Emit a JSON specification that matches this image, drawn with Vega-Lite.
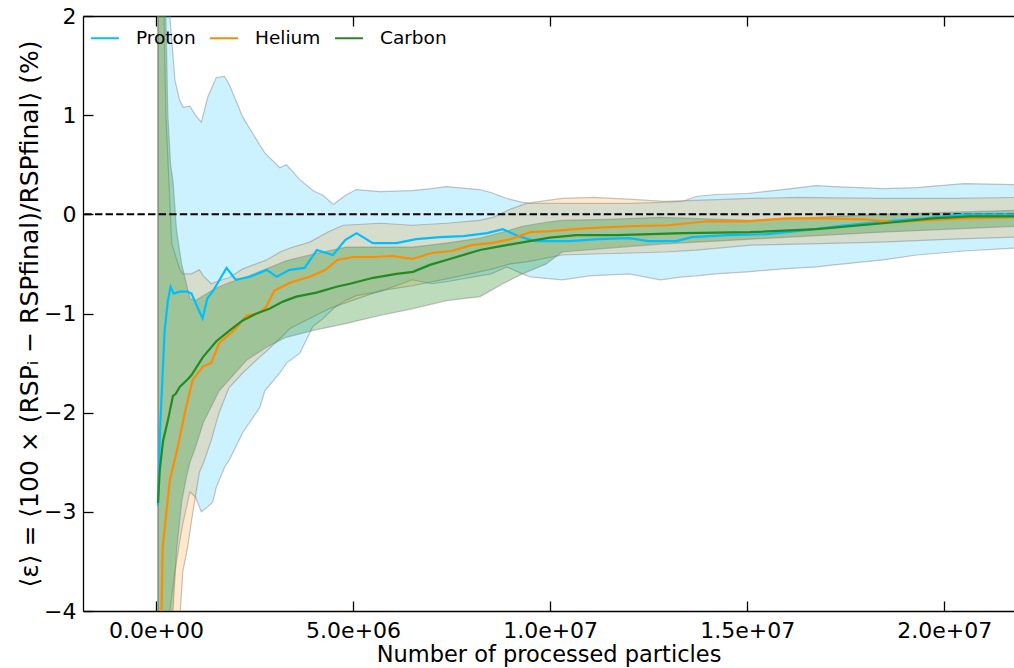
{
  "$schema": "https://vega.github.io/schema/vega-lite/v6.json",
  "autosize": {"type": "none"},
  "padding": {"left": 83, "top": 16, "right": 0, "bottom": 57},
  "width": 931,
  "height": 595,
  "background": "white",
  "config": {
    "view": {"stroke": null},
    "font": "DejaVu Sans",
    "axis": {
      "domainColor": "#000000", "domainWidth": 1.3,
      "tickColor": "#000000", "tickWidth": 1.3, "tickSize": -10,
      "labelFont": "DejaVu Sans", "labelFontSize": 22, "labelColor": "#000000",
      "titleFont": "DejaVu Sans", "titleFontWeight": "normal", "titleColor": "#000000",
      "grid": false
    }
  },
  "datasets": {
    "lines": [
      {"s":"Proton","x":50000,"y":-2.94},{"s":"Proton","x":100000,"y":-2.2},{"s":"Proton","x":160000,"y":-1.67},{"s":"Proton","x":220000,"y":-1.17},{"s":"Proton","x":300000,"y":-0.87},{"s":"Proton","x":370000,"y":-0.73},{"s":"Proton","x":450000,"y":-0.8},{"s":"Proton","x":600000,"y":-0.78},{"s":"Proton","x":800000,"y":-0.78},{"s":"Proton","x":900000,"y":-0.8},{"s":"Proton","x":1100000,"y":-0.98},{"s":"Proton","x":1180000,"y":-1.05},{"s":"Proton","x":1300000,"y":-0.85},{"s":"Proton","x":1450000,"y":-0.77},{"s":"Proton","x":1790000,"y":-0.54},{"s":"Proton","x":2020000,"y":-0.66},{"s":"Proton","x":2380000,"y":-0.63},{"s":"Proton","x":2810000,"y":-0.56},{"s":"Proton","x":3060000,"y":-0.63},{"s":"Proton","x":3390000,"y":-0.56},{"s":"Proton","x":3770000,"y":-0.54},{"s":"Proton","x":4080000,"y":-0.36},{"s":"Proton","x":4490000,"y":-0.41},{"s":"Proton","x":4800000,"y":-0.26},{"s":"Proton","x":5090000,"y":-0.19},{"s":"Proton","x":5500000,"y":-0.29},{"s":"Proton","x":6100000,"y":-0.29},{"s":"Proton","x":6600000,"y":-0.25},{"s":"Proton","x":7200000,"y":-0.23},{"s":"Proton","x":7800000,"y":-0.22},{"s":"Proton","x":8400000,"y":-0.19},{"s":"Proton","x":8800000,"y":-0.15},{"s":"Proton","x":9200000,"y":-0.22},{"s":"Proton","x":9600000,"y":-0.27},{"s":"Proton","x":10000000,"y":-0.27},{"s":"Proton","x":10500000,"y":-0.27},{"s":"Proton","x":11200000,"y":-0.25},{"s":"Proton","x":12000000,"y":-0.24},{"s":"Proton","x":12500000,"y":-0.27},{"s":"Proton","x":13200000,"y":-0.27},{"s":"Proton","x":13600000,"y":-0.23},{"s":"Proton","x":14500000,"y":-0.21},{"s":"Proton","x":15500000,"y":-0.2},{"s":"Proton","x":16500000,"y":-0.16},{"s":"Proton","x":17500000,"y":-0.11},{"s":"Proton","x":18500000,"y":-0.07},{"s":"Proton","x":19500000,"y":-0.04},{"s":"Proton","x":20500000,"y":0.0},{"s":"Proton","x":21800000,"y":0.0},
      {"s":"Helium","x":100000,"y":-4.8},{"s":"Helium","x":170000,"y":-3.35},{"s":"Helium","x":350000,"y":-2.68},{"s":"Helium","x":550000,"y":-2.35},{"s":"Helium","x":730000,"y":-2.0},{"s":"Helium","x":930000,"y":-1.67},{"s":"Helium","x":1200000,"y":-1.53},{"s":"Helium","x":1400000,"y":-1.5},{"s":"Helium","x":1600000,"y":-1.3},{"s":"Helium","x":2000000,"y":-1.16},{"s":"Helium","x":2300000,"y":-1.02},{"s":"Helium","x":2600000,"y":-1.0},{"s":"Helium","x":2800000,"y":-0.93},{"s":"Helium","x":3000000,"y":-0.77},{"s":"Helium","x":3400000,"y":-0.69},{"s":"Helium","x":3900000,"y":-0.63},{"s":"Helium","x":4300000,"y":-0.56},{"s":"Helium","x":4600000,"y":-0.46},{"s":"Helium","x":5000000,"y":-0.43},{"s":"Helium","x":5500000,"y":-0.43},{"s":"Helium","x":6000000,"y":-0.42},{"s":"Helium","x":6500000,"y":-0.45},{"s":"Helium","x":7000000,"y":-0.39},{"s":"Helium","x":7500000,"y":-0.37},{"s":"Helium","x":8000000,"y":-0.31},{"s":"Helium","x":8500000,"y":-0.29},{"s":"Helium","x":9000000,"y":-0.25},{"s":"Helium","x":9500000,"y":-0.18},{"s":"Helium","x":10000000,"y":-0.17},{"s":"Helium","x":11000000,"y":-0.14},{"s":"Helium","x":12000000,"y":-0.12},{"s":"Helium","x":13000000,"y":-0.11},{"s":"Helium","x":14000000,"y":-0.07},{"s":"Helium","x":15000000,"y":-0.07},{"s":"Helium","x":16000000,"y":-0.04},{"s":"Helium","x":17000000,"y":-0.04},{"s":"Helium","x":18000000,"y":-0.05},{"s":"Helium","x":18800000,"y":-0.08},{"s":"Helium","x":19500000,"y":-0.06},{"s":"Helium","x":20500000,"y":-0.04},{"s":"Helium","x":21800000,"y":-0.03},
      {"s":"Carbon","x":50000,"y":-2.91},{"s":"Carbon","x":94000,"y":-2.58},{"s":"Carbon","x":180000,"y":-2.28},{"s":"Carbon","x":300000,"y":-2.08},{"s":"Carbon","x":430000,"y":-1.83},{"s":"Carbon","x":500000,"y":-1.81},{"s":"Carbon","x":600000,"y":-1.74},{"s":"Carbon","x":810000,"y":-1.66},{"s":"Carbon","x":900000,"y":-1.62},{"s":"Carbon","x":1190000,"y":-1.44},{"s":"Carbon","x":1530000,"y":-1.28},{"s":"Carbon","x":1870000,"y":-1.17},{"s":"Carbon","x":2200000,"y":-1.07},{"s":"Carbon","x":2550000,"y":-1.0},{"s":"Carbon","x":2890000,"y":-0.95},{"s":"Carbon","x":3220000,"y":-0.88},{"s":"Carbon","x":3560000,"y":-0.83},{"s":"Carbon","x":4070000,"y":-0.79},{"s":"Carbon","x":4580000,"y":-0.73},{"s":"Carbon","x":4920000,"y":-0.7},{"s":"Carbon","x":5510000,"y":-0.64},{"s":"Carbon","x":6100000,"y":-0.6},{"s":"Carbon","x":6520000,"y":-0.58},{"s":"Carbon","x":6950000,"y":-0.51},{"s":"Carbon","x":7540000,"y":-0.44},{"s":"Carbon","x":8220000,"y":-0.36},{"s":"Carbon","x":8890000,"y":-0.31},{"s":"Carbon","x":9480000,"y":-0.27},{"s":"Carbon","x":9990000,"y":-0.235},{"s":"Carbon","x":10670000,"y":-0.21},{"s":"Carbon","x":11690000,"y":-0.21},{"s":"Carbon","x":13380000,"y":-0.19},{"s":"Carbon","x":15070000,"y":-0.18},{"s":"Carbon","x":16760000,"y":-0.15},{"s":"Carbon","x":18450000,"y":-0.09},{"s":"Carbon","x":19710000,"y":-0.04},{"s":"Carbon","x":20650000,"y":-0.02},{"s":"Carbon","x":21800000,"y":-0.02}
    ],
    "pband": [
      {"x":50000,"lo":-5,"hi":3.5},{"x":100000,"lo":-5,"hi":3.5},{"x":200000,"lo":-4.6,"hi":3},{"x":250000,"lo":-4.4,"hi":3},{"x":350000,"lo":-4.0,"hi":2.0},{"x":480000,"lo":-3.6,"hi":1.35},{"x":600000,"lo":-3.3,"hi":1.15},{"x":690000,"lo":-3.1,"hi":1.08},{"x":860000,"lo":-2.8,"hi":1.09},{"x":1000000,"lo":-2.85,"hi":1.0},{"x":1150000,"lo":-3.0,"hi":0.93},{"x":1310000,"lo":-2.95,"hi":1.18},{"x":1440000,"lo":-2.9,"hi":1.3},{"x":1530000,"lo":-2.75,"hi":1.38},{"x":1740000,"lo":-2.55,"hi":1.39},{"x":1870000,"lo":-2.47,"hi":1.3},{"x":2200000,"lo":-2.2,"hi":0.98},{"x":2630000,"lo":-1.95,"hi":0.7},{"x":2760000,"lo":-1.78,"hi":0.62},{"x":3140000,"lo":-1.6,"hi":0.47},{"x":3310000,"lo":-1.5,"hi":0.5},{"x":3650000,"lo":-1.4,"hi":0.35},{"x":3980000,"lo":-1.13,"hi":0.24},{"x":4240000,"lo":-1.05,"hi":0.19},{"x":4500000,"lo":-0.95,"hi":0.1},{"x":4800000,"lo":-0.87,"hi":0.19},{"x":5080000,"lo":-0.82,"hi":0.25},{"x":5680000,"lo":-0.78,"hi":0.23},{"x":6500000,"lo":-0.66,"hi":0.24},{"x":7000000,"lo":-0.7,"hi":0.26},{"x":7370000,"lo":-0.68,"hi":0.28},{"x":8200000,"lo":-0.62,"hi":0.25},{"x":8500000,"lo":-0.6,"hi":0.22},{"x":8900000,"lo":-0.53,"hi":0.16},{"x":9300000,"lo":-0.6,"hi":0.12},{"x":9500000,"lo":-0.63,"hi":0.11},{"x":10300000,"lo":-0.66,"hi":0.11},{"x":11000000,"lo":-0.62,"hi":0.11},{"x":12000000,"lo":-0.6,"hi":0.11},{"x":12800000,"lo":-0.66,"hi":0.12},{"x":13350000,"lo":-0.63,"hi":0.13},{"x":13700000,"lo":-0.62,"hi":0.18},{"x":14200000,"lo":-0.6,"hi":0.2},{"x":15000000,"lo":-0.58,"hi":0.21},{"x":15900000,"lo":-0.55,"hi":0.25},{"x":16760000,"lo":-0.53,"hi":0.29},{"x":17200000,"lo":-0.51,"hi":0.28},{"x":18440000,"lo":-0.46,"hi":0.26},{"x":19300000,"lo":-0.41,"hi":0.27},{"x":20500000,"lo":-0.37,"hi":0.31},{"x":21800000,"lo":-0.34,"hi":0.3}
    ],
    "hband": [
      {"x":50000,"lo":-6,"hi":3.5},{"x":100000,"lo":-6,"hi":3},{"x":180000,"lo":-5,"hi":2.5},{"x":250000,"lo":-5,"hi":1.0},{"x":400000,"lo":-4.8,"hi":-0.3},{"x":600000,"lo":-4.1,"hi":-0.55},{"x":680000,"lo":-3.6,"hi":-0.6},{"x":800000,"lo":-3.36,"hi":-0.6},{"x":900000,"lo":-3.09,"hi":-0.6},{"x":1100000,"lo":-2.6,"hi":-0.56},{"x":1200000,"lo":-2.51,"hi":-0.62},{"x":1400000,"lo":-2.28,"hi":-0.7},{"x":1600000,"lo":-2.0,"hi":-0.67},{"x":1850000,"lo":-1.75,"hi":-0.64},{"x":2200000,"lo":-1.6,"hi":-0.55},{"x":2600000,"lo":-1.45,"hi":-0.49},{"x":2800000,"lo":-1.38,"hi":-0.46},{"x":3150000,"lo":-1.25,"hi":-0.38},{"x":3400000,"lo":-1.15,"hi":-0.34},{"x":3900000,"lo":-1.05,"hi":-0.28},{"x":4400000,"lo":-0.95,"hi":-0.17},{"x":4750000,"lo":-0.9,"hi":-0.11},{"x":5700000,"lo":-0.77,"hi":-0.09},{"x":6500000,"lo":-0.72,"hi":-0.11},{"x":7370000,"lo":-0.65,"hi":-0.09},{"x":8200000,"lo":-0.58,"hi":-0.06},{"x":8550000,"lo":-0.55,"hi":-0.03},{"x":8980000,"lo":-0.5,"hi":0.05},{"x":9400000,"lo":-0.48,"hi":0.11},{"x":10300000,"lo":-0.41,"hi":0.16},{"x":11100000,"lo":-0.4,"hi":0.17},{"x":12100000,"lo":-0.39,"hi":0.15},{"x":12900000,"lo":-0.38,"hi":0.13},{"x":13700000,"lo":-0.36,"hi":0.14},{"x":15100000,"lo":-0.31,"hi":0.16},{"x":16300000,"lo":-0.3,"hi":0.17},{"x":18400000,"lo":-0.28,"hi":0.16},{"x":20200000,"lo":-0.25,"hi":0.16},{"x":21800000,"lo":-0.23,"hi":0.17}
    ],
    "cband": [
      {"x":50000,"lo":-6,"hi":3.5},{"x":200000,"lo":-6,"hi":3},{"x":250000,"lo":-6,"hi":2.0},{"x":300000,"lo":-5.5,"hi":1.0},{"x":370000,"lo":-4.8,"hi":0.5},{"x":430000,"lo":-4.0,"hi":0.34},{"x":520000,"lo":-3.4,"hi":-0.16},{"x":650000,"lo":-2.9,"hi":-0.5},{"x":770000,"lo":-2.65,"hi":-0.7},{"x":860000,"lo":-2.5,"hi":-0.85},{"x":1000000,"lo":-2.35,"hi":-0.87},{"x":1200000,"lo":-2.1,"hi":-0.82},{"x":1450000,"lo":-1.9,"hi":-0.76},{"x":1600000,"lo":-1.78,"hi":-0.73},{"x":1850000,"lo":-1.67,"hi":-0.69},{"x":2300000,"lo":-1.47,"hi":-0.63},{"x":2800000,"lo":-1.34,"hi":-0.55},{"x":3300000,"lo":-1.24,"hi":-0.47},{"x":4000000,"lo":-1.17,"hi":-0.4},{"x":4830000,"lo":-1.1,"hi":-0.33},{"x":5680000,"lo":-1.02,"hi":-0.33},{"x":6520000,"lo":-0.95,"hi":-0.33},{"x":7370000,"lo":-0.87,"hi":-0.29},{"x":8220000,"lo":-0.83,"hi":-0.24},{"x":8800000,"lo":-0.7,"hi":-0.18},{"x":9300000,"lo":-0.6,"hi":-0.12},{"x":9900000,"lo":-0.5,"hi":-0.08},{"x":10300000,"lo":-0.38,"hi":-0.06},{"x":11500000,"lo":-0.34,"hi":-0.05},{"x":12800000,"lo":-0.3,"hi":-0.03},{"x":15100000,"lo":-0.25,"hi":-0.06},{"x":18400000,"lo":-0.18,"hi":0.0},{"x":21800000,"lo":-0.12,"hi":0.04}
    ]
  },
  "encoding": {
    "x": {"field": "x", "type": "quantitative", "scale": {"domain": [-1853000, 21770000], "nice": false, "zero": false}},
    "y": {"type": "quantitative", "scale": {"domain": [-4, 2], "nice": false, "zero": false}}
  },
  "resolve": {"axis": {"x": "independent", "y": "independent"}},
  "layer": [
    {
      "data": {"name": "pband"},
      "mark": {"type": "area", "fill": "#00BFFF", "fillOpacity": 0.2, "stroke": "#7f7f7f", "strokeOpacity": 0.45, "strokeWidth": 1.2, "clip": true},
      "encoding": {
        "x": {"field": "x", "type": "quantitative", "axis": {"values": [0, 5000000, 10000000, 15000000, 20000000], "labelExpr": "datum.value == 0 ? '0.0e+00' : replace(format(datum.value, '.1e'), 'e+', 'e+0')", "labelPadding": 19, "title": "Number of processed particles", "titleFontSize": 22.5, "titlePadding": 2, "labelFlush": false}},
        "y": {"field": "hi", "type": "quantitative", "axis": {"values": [-4, -3, -2, -1, 0, 1, 2], "format": "d", "labelPadding": 17, "title": "⟨ε⟩ = ⟨100 × (RSPᵢ − RSPfinal)/RSPfinal⟩ (%)", "titleFontSize": 25, "titlePadding": 1, "labelFlush": false}},
        "y2": {"field": "lo"}
      }
    },
    {
      "data": {"name": "hband"},
      "mark": {"type": "area", "fill": "#FF8C00", "fillOpacity": 0.2, "stroke": "#7f7f7f", "strokeOpacity": 0.45, "strokeWidth": 1.2, "clip": true},
      "encoding": {
        "x": {"field": "x", "type": "quantitative", "axis": {"orient": "top", "values": [0, 5000000, 10000000, 15000000, 20000000], "labels": false, "title": null}},
        "y": {"field": "hi", "type": "quantitative", "axis": null},
        "y2": {"field": "lo"}
      }
    },
    {
      "data": {"name": "cband"},
      "mark": {"type": "area", "fill": "#228B22", "fillOpacity": 0.3, "stroke": "#7f7f7f", "strokeOpacity": 0.45, "strokeWidth": 1.2, "clip": true},
      "encoding": {
        "x": {"field": "x", "type": "quantitative", "axis": null},
        "y": {"field": "hi", "type": "quantitative", "axis": null},
        "y2": {"field": "lo"}
      }
    },
    {
      "data": {"values": [{}]},
      "mark": {"type": "rule", "color": "#000000", "strokeWidth": 2, "strokeDash": [7.4, 3.2]},
      "encoding": {
        "x": null,
        "y": {"datum": 0, "type": "quantitative", "axis": null}
      }
    },
    {
      "data": {"name": "lines"},
      "mark": {"type": "line", "strokeWidth": 2.2, "clip": true},
      "encoding": {
        "x": {"field": "x", "type": "quantitative", "axis": null},
        "y": {"field": "y", "type": "quantitative", "axis": null},
        "color": {
          "field": "s", "type": "nominal",
          "scale": {"domain": ["Proton", "Helium", "Carbon"], "range": ["#00BFFF", "#FF8C00", "#228B22"]},
          "legend": {"orient": "top-left", "direction": "horizontal", "title": null, "symbolType": "stroke", "symbolSize": 784, "symbolStrokeWidth": 2, "labelFontSize": 18.5, "labelFont": "DejaVu Sans", "labelColor": "#000000", "labelOffset": 16, "columnPadding": 10, "offset": 7, "padding": 0}
        }
      }
    }
  ]
}
